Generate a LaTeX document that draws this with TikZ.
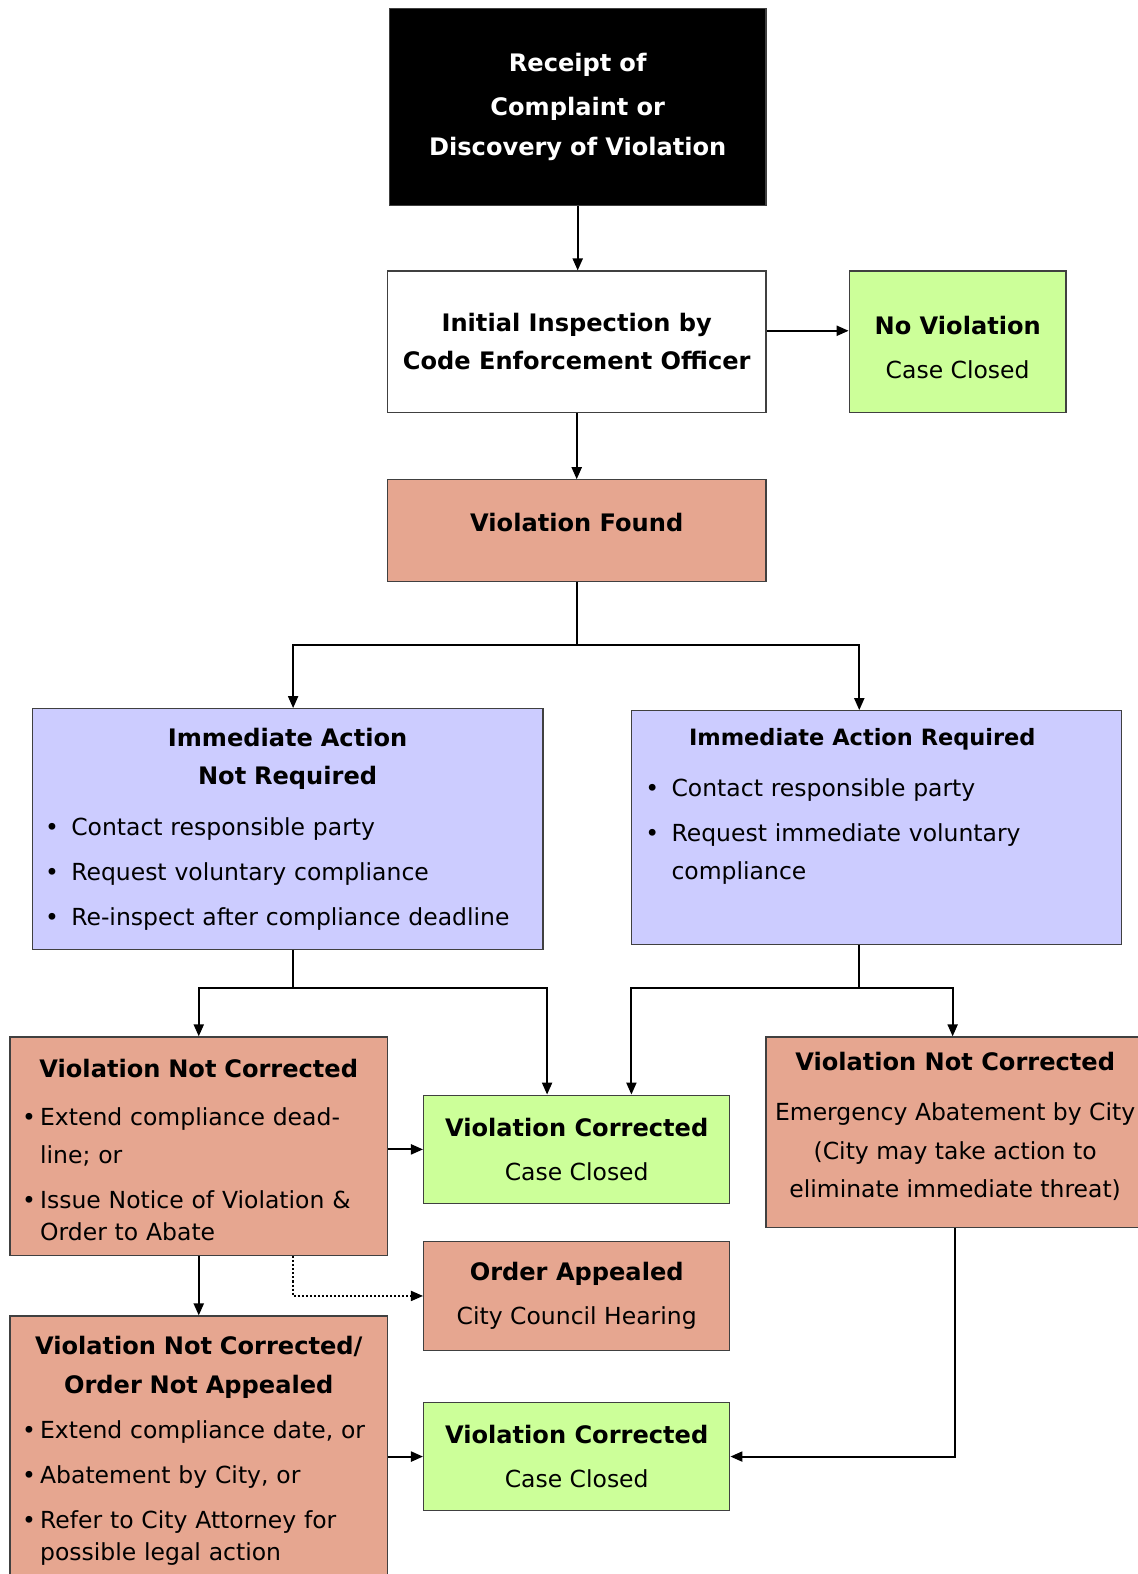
\documentclass[tikz,border=0pt]{standalone}
\usepackage{fontspec}
\setmainfont{DejaVu Sans}
\usetikzlibrary{arrows.meta,calc}

\definecolor{closedgreen}{HTML}{CCFF99}
\definecolor{violsalmon}{HTML}{E6A690}
\definecolor{actlavender}{HTML}{CCCCFF}
\definecolor{boxedge}{HTML}{404040}

\newlength{\bind}
\newcommand{\hd}[1]{{\fontsize{12}{19}\selectfont\bfseries #1}}
\newcommand{\ttl}[1]{{\centering\hd{#1}\par}}
\newcommand{\bitem}[1]{\par\vspace{3.5pt}\noindent\makebox[\bind][l]{\textbullet}#1}
\newcommand{\bmore}[2][0pt]{\par\vspace{#1}\noindent\hspace*{\bind}#2}

\tikzset{
  box/.style={draw=boxedge, line width=0.6pt, inner sep=0pt, align=center,
    font=\fontsize{11.7}{19}\selectfont},
  startbox/.style={box, fill=black, text=white,
    font=\fontsize{12}{20}\selectfont\bfseries},
  plainbox/.style={box, fill=white},
  closedbox/.style={box, fill=closedgreen},
  violbox/.style={box, fill=violsalmon},
  actbox/.style={box, fill=actlavender},
  listbox/.style={align=left},
  arr/.style={line width=1pt, -{Triangle[length=6pt,width=5pt]}},
  dotarr/.style={arr, line width=0.8pt, dash pattern=on 1pt off 1pt},
}

\begin{document}
\begin{tikzpicture}[x=0.5pt, y=-0.5pt]
  % Page
  \fill[white] (0,0) rectangle (1133,1568);
  \useasboundingbox (0,0) rectangle (1133,1568);

  % Start and first inspection
  \node[startbox, minimum width=187.5pt, minimum height=98pt, text width=180pt] (receipt) at (575.5,106.5)
    {Receipt of\\[2pt]Complaint or\\Discovery of Violation};
  \node[plainbox, minimum width=188.5pt, minimum height=70.5pt] (inspect) at (574.5,340.5)
    {\hd{Initial Inspection by}\\\hd{Code Enforcement Officer}};
  \node[closedbox, minimum width=108pt, minimum height=70.5pt] (noviol) at (954,340.5)
    {\rule{0pt}{15pt}\hd{No Violation}\\[3pt]Case Closed};
  \node[violbox, minimum width=188.5pt, minimum height=50.5pt] (found) at (574.5,528.5)
    {\hd{Violation Found}\rule[-8pt]{0pt}{8pt}};

  % Immediate action or not
  \node[actbox, listbox, minimum width=254.5pt, minimum height=120pt, text width=241.5pt] (notreq) at (286.5,826)
    {\setlength{\bind}{13pt}\ttl{Immediate Action}\ttl{Not Required}\vspace{3pt}
     \bitem{Contact responsible party}
     \bitem{Request voluntary compliance}
     \bitem{Re-inspect after compliance deadline}};
  \node[actbox, listbox, minimum width=244pt, minimum height=116.5pt, text width=230pt] (req) at (873,824.5)
    {\setlength{\bind}{13pt}{\centering{\fontsize{11.2}{19}\selectfont\bfseries Immediate Action Required}\kern14pt\par}\vspace{3pt}
     \bitem{Contact responsible party}
     \bitem{Request immediate voluntary}
     \bmore{compliance\rule[-23.5pt]{0pt}{23.5pt}}};

  % Follow-up
  \node[violbox, listbox, minimum width=188pt, minimum height=109pt, text width=176pt] (vncL) at (198,1142)
    {\setlength{\bind}{9pt}\ttl{\rule{0pt}{13pt}Violation Not Corrected}\vspace{1pt}
     \bitem{Extend compliance dead-}
     \bmore{line; or}
     \bitem{Issue Notice of Violation \&}
     \bmore[-3pt]{Order to Abate}};
  \node[violbox, minimum width=188.5pt, minimum height=95pt] (vncR) at (951.5,1128)
    {\hd{Violation Not Corrected}\\[6pt]Emergency Abatement by City\\(City may take action to\\eliminate immediate threat)\rule[-7.5pt]{0pt}{7.5pt}};
  \node[closedbox, minimum width=152.5pt, minimum height=54pt] (fixedA) at (574.5,1145)
    {\hd{Violation Corrected}\\[3pt]Case Closed};
  \node[violbox, minimum width=152.5pt, minimum height=54pt] (appeal) at (574.5,1291)
    {\hd{Order Appealed}\\[3pt]City Council Hearing};
  \node[violbox, listbox, minimum width=188pt, minimum height=134.5pt, text width=176pt] (vnona) at (198,1445.5)
    {\setlength{\bind}{9pt}\ttl{Violation Not Corrected/}\ttl{Order Not Appealed}
     \bitem{Extend compliance date, or}
     \bitem{Abatement by City, or}
     \bitem{Refer to City Attorney for}
     \bmore[-3pt]{possible legal action}};
  \node[closedbox, minimum width=152.5pt, minimum height=54pt] (fixedB) at (574.5,1451)
    {\hd{Violation Corrected}\\[3pt]Case Closed};

  % Arrows
  \draw[arr] (receipt.south) -- (receipt.south |- inspect.north);
  \draw[arr] ($(inspect.east)+(0,-11)$) -- ($(noviol.west)+(0,-11)$);
  \draw[arr] (inspect) -- (found);
  \draw[arr] (found.south) -- ++(0,63) -| ([xshift=2.75pt]notreq.north);
  \draw[arr] (found.south) -- ++(0,63) -| ([xshift=-8.5pt]req.north);
  \draw[arr] ([xshift=2.75pt]notreq.south) -- ++(0,38) -| (vncL.north);
  \draw[arr] ([xshift=2.75pt]notreq.south) -- ++(0,38) -| ([xshift=-14.75pt]fixedA.north);
  \draw[arr] ([xshift=-8.5pt]req.south) -- ++(0,43) -| ([xshift=27.25pt]fixedA.north);
  \draw[arr] ([xshift=-8.5pt]req.south) -- ++(0,43) -| ([xshift=-1.25pt]vncR.north);
  \draw[arr] (vncL.east |- fixedA) -- (fixedA.west);
  \draw[arr] (vncL) -- (vnona);
  \draw[dotarr] ([xshift=47pt]vncL.south) |- (appeal.west);
  \draw[arr] (vnona.east |- fixedB) -- (fixedB.west);
  \draw[arr] (vncR.south) |- (fixedB.east);
\end{tikzpicture}
\end{document}
